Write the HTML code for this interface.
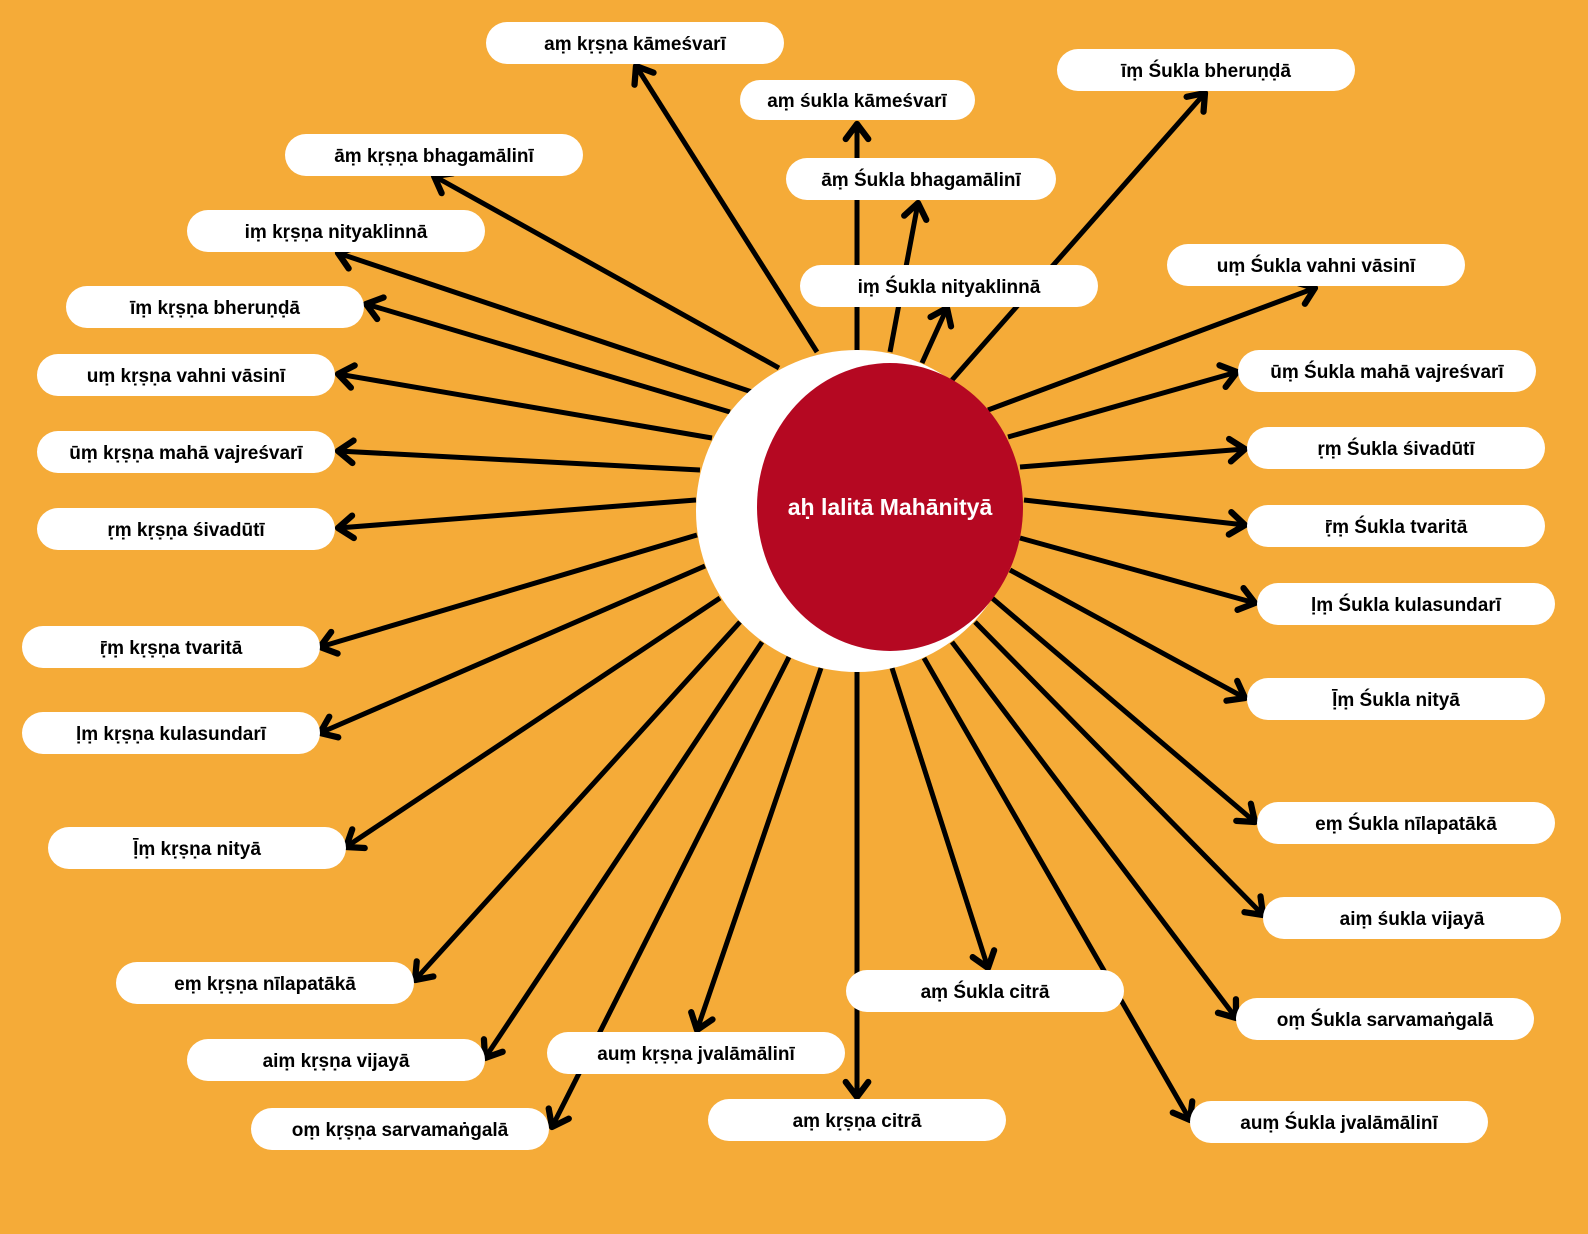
<!DOCTYPE html>
<html><head><meta charset="utf-8"><style>
html,body{margin:0;padding:0;background:#F5AB38;}
svg{display:block;}
text{font-family:"Liberation Sans","DejaVu Sans",sans-serif;font-weight:bold;}
</style></head><body>
<svg width="1588" height="1234" viewBox="0 0 1588 1234" xmlns="http://www.w3.org/2000/svg">
<defs>
<marker id="a" markerUnits="userSpaceOnUse" markerWidth="30" markerHeight="30" refX="0" refY="0" viewBox="-16 -12 20 24" orient="auto">
<path d="M-12,-9 L0,0 L-12,9" fill="none" stroke="#000" stroke-width="5" stroke-linecap="round" stroke-linejoin="round"/>
</marker>
</defs>
<rect width="1588" height="1234" fill="#F5AB38"/>
<g stroke="#000" stroke-width="5" marker-end="url(#a)">
<line x1="817" y1="352" x2="636" y2="66"/>
<line x1="779" y1="368" x2="434" y2="176"/>
<line x1="752" y1="392" x2="338" y2="253"/>
<line x1="730" y1="412" x2="366" y2="304"/>
<line x1="712" y1="438" x2="338" y2="374"/>
<line x1="700" y1="470" x2="338" y2="451"/>
<line x1="696" y1="500" x2="338" y2="528"/>
<line x1="697" y1="535" x2="320" y2="647"/>
<line x1="705" y1="566" x2="320" y2="733"/>
<line x1="720" y1="598" x2="346" y2="847"/>
<line x1="740" y1="622" x2="415" y2="980"/>
<line x1="762" y1="642" x2="485" y2="1058"/>
<line x1="789" y1="657" x2="552" y2="1127"/>
<line x1="821" y1="668" x2="697" y2="1030"/>
<line x1="857" y1="672" x2="857" y2="1097"/>
<line x1="857" y1="350" x2="857" y2="124"/>
<line x1="890" y1="352" x2="918" y2="203"/>
<line x1="922" y1="363" x2="947" y2="308"/>
<line x1="952" y1="380" x2="1205" y2="93"/>
<line x1="988" y1="410" x2="1315" y2="288"/>
<line x1="1008" y1="437" x2="1237" y2="372"/>
<line x1="1020" y1="467" x2="1245" y2="449"/>
<line x1="1024" y1="500" x2="1245" y2="525"/>
<line x1="1020" y1="538" x2="1255" y2="603"/>
<line x1="1010" y1="570" x2="1245" y2="698"/>
<line x1="992" y1="598" x2="1255" y2="822"/>
<line x1="975" y1="622" x2="1263" y2="915"/>
<line x1="952" y1="642" x2="1236" y2="1018"/>
<line x1="924" y1="658" x2="1190" y2="1120"/>
<line x1="892" y1="668" x2="988" y2="968"/>
</g>
<circle cx="857" cy="511" r="161" fill="#fff"/>
<ellipse cx="890" cy="507" rx="133" ry="144" fill="#B50822"/>
<text x="890" y="515" fill="#fff" font-size="23" text-anchor="middle">aḥ lalitā Mahānityā</text>
<g fill="#fff">
<rect x="486" y="22" width="298" height="42" rx="21"/>
<rect x="285" y="134" width="298" height="42" rx="21"/>
<rect x="187" y="210" width="298" height="42" rx="21"/>
<rect x="66" y="286" width="298" height="42" rx="21"/>
<rect x="37" y="354" width="298" height="42" rx="21"/>
<rect x="37" y="431" width="298" height="42" rx="21"/>
<rect x="37" y="508" width="298" height="42" rx="21"/>
<rect x="22" y="626" width="298" height="42" rx="21"/>
<rect x="22" y="712" width="298" height="42" rx="21"/>
<rect x="48" y="827" width="298" height="42" rx="21"/>
<rect x="116" y="962" width="298" height="42" rx="21"/>
<rect x="187" y="1039" width="298" height="42" rx="21"/>
<rect x="251" y="1108" width="298" height="42" rx="21"/>
<rect x="547" y="1032" width="298" height="42" rx="21"/>
<rect x="708" y="1099" width="298" height="42" rx="21"/>
<rect x="740" y="80" width="235" height="40" rx="20"/>
<rect x="1057" y="49" width="298" height="42" rx="21"/>
<rect x="786" y="158" width="270" height="42" rx="21"/>
<rect x="800" y="265" width="298" height="42" rx="21"/>
<rect x="1167" y="244" width="298" height="42" rx="21"/>
<rect x="1238" y="350" width="298" height="42" rx="21"/>
<rect x="1247" y="427" width="298" height="42" rx="21"/>
<rect x="1247" y="505" width="298" height="42" rx="21"/>
<rect x="1257" y="583" width="298" height="42" rx="21"/>
<rect x="1247" y="678" width="298" height="42" rx="21"/>
<rect x="1257" y="802" width="298" height="42" rx="21"/>
<rect x="1263" y="897" width="298" height="42" rx="21"/>
<rect x="1236" y="998" width="298" height="42" rx="21"/>
<rect x="846" y="970" width="278" height="42" rx="21"/>
<rect x="1190" y="1101" width="298" height="42" rx="21"/>
</g>
<g fill="#000" font-size="19" text-anchor="middle">
<text x="635" y="50">aṃ kṛṣṇa kāmeśvarī</text>
<text x="434" y="162">āṃ kṛṣṇa bhagamālinī</text>
<text x="336" y="238">iṃ kṛṣṇa nityaklinnā</text>
<text x="215" y="314">īṃ kṛṣṇa bheruṇḍā</text>
<text x="186" y="382">uṃ kṛṣṇa vahni vāsinī</text>
<text x="186" y="459">ūṃ kṛṣṇa mahā vajreśvarī</text>
<text x="186" y="536">ṛṃ kṛṣṇa śivadūtī</text>
<text x="171" y="654">ṝṃ kṛṣṇa tvaritā</text>
<text x="171" y="740">ḷṃ kṛṣṇa kulasundarī</text>
<text x="197" y="855">ḹṃ kṛṣṇa nityā</text>
<text x="265" y="990">eṃ kṛṣṇa nīlapatākā</text>
<text x="336" y="1067">aiṃ kṛṣṇa vijayā</text>
<text x="400" y="1136">oṃ kṛṣṇa sarvamaṅgalā</text>
<text x="696" y="1060">auṃ kṛṣṇa jvalāmālinī</text>
<text x="857" y="1127">aṃ kṛṣṇa citrā</text>
<text x="857" y="107">aṃ śukla kāmeśvarī</text>
<text x="1206" y="77">īṃ Śukla bheruṇḍā</text>
<text x="921" y="186">āṃ Śukla bhagamālinī</text>
<text x="949" y="293">iṃ Śukla nityaklinnā</text>
<text x="1316" y="272">uṃ Śukla vahni vāsinī</text>
<text x="1387" y="378">ūṃ Śukla mahā vajreśvarī</text>
<text x="1396" y="455">ṛṃ Śukla śivadūtī</text>
<text x="1396" y="533">ṝṃ Śukla tvaritā</text>
<text x="1406" y="611">ḷṃ Śukla kulasundarī</text>
<text x="1396" y="706">ḹṃ Śukla nityā</text>
<text x="1406" y="830">eṃ Śukla nīlapatākā</text>
<text x="1412" y="925">aiṃ śukla vijayā</text>
<text x="1385" y="1026">oṃ Śukla sarvamaṅgalā</text>
<text x="985" y="998">aṃ Śukla citrā</text>
<text x="1339" y="1129">auṃ Śukla jvalāmālinī</text>
</g>
</svg>
</body></html>
